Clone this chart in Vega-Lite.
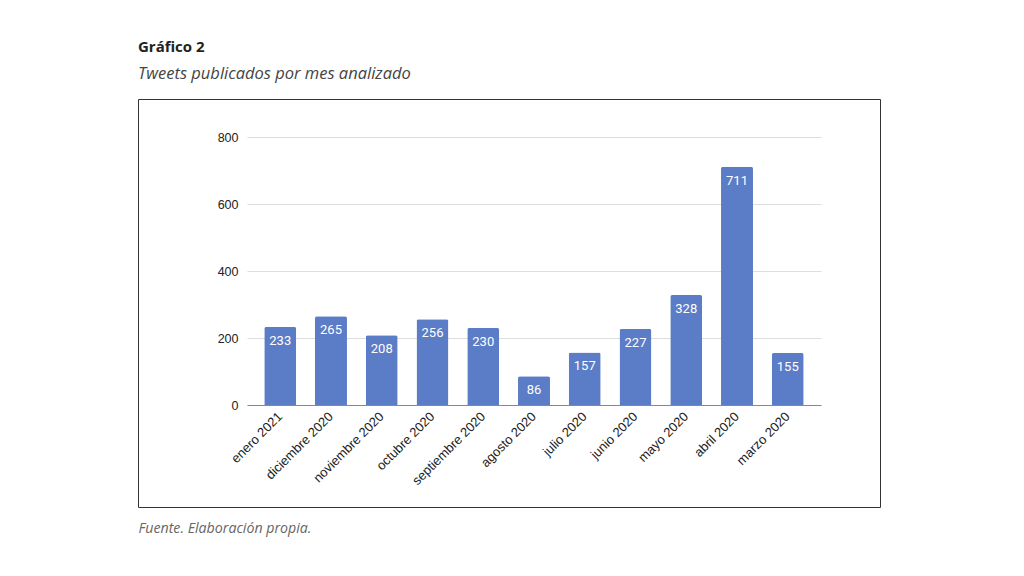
{
  "$schema": "https://vega.github.io/schema/vega-lite/v6.json",
  "autosize": {"type": "none"},
  "width": 742,
  "height": 408,
  "padding": {"left": 138, "top": 99, "right": 144, "bottom": 69},
  "background": "#ffffff",
  "title": {
    "text": "Gráfico 2",
    "subtitle": "Tweets publicados por mes analizado",
    "anchor": "start",
    "frame": "group",
    "font": "Open Sans",
    "fontSize": 15,
    "fontWeight": "bold",
    "color": "#222222",
    "subtitleFont": "Open Sans",
    "subtitleFontSize": 16.5,
    "subtitleFontStyle": "italic",
    "subtitleColor": "#444444",
    "subtitlePadding": 11,
    "offset": 17
  },
  "data": {
    "values": [
      {"mes": "enero 2021", "tweets": 233},
      {"mes": "diciembre 2020", "tweets": 265},
      {"mes": "noviembre 2020", "tweets": 208},
      {"mes": "octubre 2020", "tweets": 256},
      {"mes": "septiembre 2020", "tweets": 230},
      {"mes": "agosto 2020", "tweets": 86},
      {"mes": "julio 2020", "tweets": 157},
      {"mes": "junio 2020", "tweets": 227},
      {"mes": "mayo 2020", "tweets": 328},
      {"mes": "abril 2020", "tweets": 711},
      {"mes": "marzo 2020", "tweets": 155}
    ]
  },
  "encoding": {
    "x": {
      "field": "mes",
      "type": "nominal",
      "sort": null,
      "scale": {"range": [109, 683], "paddingInner": 0.37, "paddingOuter": 0.34},
      "axis": {
        "title": "Fuente. Elaboración propia.",
        "titleFont": "Open Sans",
        "titleFontSize": 14.2,
        "titleFontStyle": "italic",
        "titleFontWeight": "normal",
        "titleColor": "#666666",
        "titleAnchor": "start",
        "titleAlign": "left",
        "titleBaseline": "alphabetic",
        "titleX": 0,
        "titleY": 127,
        "offset": -102,
        "labelAngle": -45,
        "labelAlign": "right",
        "labelBaseline": "middle",
        "labelPadding": 9,
        "labelFont": "Liberation Sans",
        "labelFontSize": 13,
        "labelColor": "#222222",
        "ticks": false,
        "domainColor": "#888888",
        "domainWidth": 1.2
      }
    },
    "y": {
      "field": "tweets",
      "type": "quantitative",
      "scale": {"domain": [0, 800], "range": [306, 38], "nice": false},
      "axis": {
        "title": null,
        "values": [0, 200, 400, 600, 800],
        "offset": -109,
        "labelPadding": 9,
        "labelFont": "Liberation Sans",
        "labelFontSize": 12.5,
        "labelColor": "#222222",
        "ticks": false,
        "domain": false,
        "gridColor": "#dddddd",
        "gridWidth": 1
      }
    }
  },
  "layer": [
    {
      "mark": {"type": "bar", "color": "#5b7cc6", "cornerRadiusTopLeft": 2, "cornerRadiusTopRight": 2}
    },
    {
      "mark": {"type": "text", "baseline": "top", "dy": 8, "color": "#ffffff", "font": "Roboto", "fontSize": 13},
      "encoding": {"text": {"field": "tweets", "type": "quantitative"}}
    }
  ],
  "config": {
    "view": {"stroke": "#333333", "strokeWidth": 1}
  }
}
